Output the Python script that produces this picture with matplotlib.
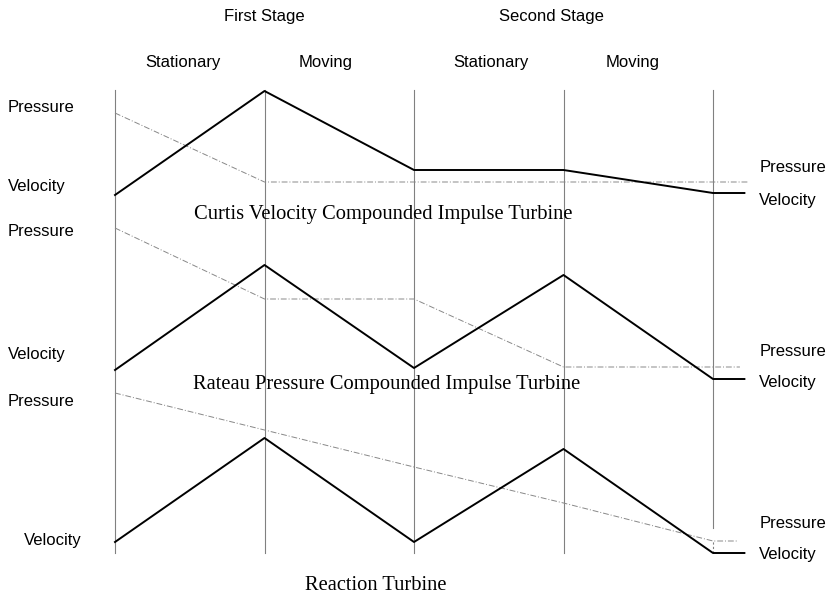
import matplotlib
matplotlib.use("Agg")
import matplotlib.pyplot as plt

# blade stations: 0 = stage inlet, 1..4 = after each blade row
stations = [0, 1, 2, 3, 4]

# heights (units = pixels above bottom edge)
curtis_velocity = [400, 504, 425, 425, 402]
curtis_pressure = [482, 413, 413, 413, 413]
rateau_velocity = [225, 330, 227, 320, 216]
rateau_pressure = [367, 296, 296, 228, 228]
reaction_velocity = [53, 157, 53, 146, 42]
reaction_pressure = [202, 165, 128, 92, 54]

stage_names = ["First Stage", "Second Stage"]
row_names = ["Stationary", "Moving", "Stationary", "Moving"]
titles = ["Curtis Velocity Compounded Impulse Turbine",
          "Rateau Pressure Compounded Impulse Turbine",
          "Reaction Turbine"]

sans = "Liberation Sans"
serif = "Liberation Serif"

fig = plt.figure(figsize=(8.33, 5.95), dpi=100)
ax = fig.add_axes([0, 0, 1, 1])
ax.set_xlim(-115 / 149.5, (833 - 115) / 149.5)
ax.set_ylim(0, 595)
ax.axis("off")

# vertical blade-row lines
for s in stations[:-1]:
    ax.plot([s, s], [42, 505], color="#808080", lw=0.8, zorder=1)
ax.plot([4, 4], [67, 505], color="#808080", lw=0.8, zorder=1)
ax.plot([4, 4], [42, 54], color="#808080", lw=0.8, ls=(0, (2, 2)), zorder=1)

dash = (0, (6, 2, 1, 2))
ext = 4.21

panels = [
    (curtis_velocity, curtis_pressure, 4.23),
    (rateau_velocity, rateau_pressure, 4.18),
    (reaction_velocity, reaction_pressure, 4.16),
]
for vel, pres, pend in panels:
    ax.plot(stations + [ext], vel + [vel[-1]], color="black", lw=1.4, zorder=3)
    ax.plot(stations + [pend], pres + [pres[-1]], color="#888888", lw=0.7,
            ls=dash, zorder=2)

# left-side labels
left_x = -0.716
for txt, y, x in [("Pressure", 487, left_x), ("Velocity", 409, left_x),
                  ("Pressure", 363, left_x), ("Velocity", 240, left_x),
                  ("Pressure", 193, left_x), ("Velocity", 54, -0.61)]:
    ax.text(x, y, txt, fontsize=12, family=sans, ha="left", va="center")

# right-side labels
right_x = 4.31
for txt, y in [("Pressure", 427, ), ("Velocity", 395),
               ("Pressure", 244), ("Velocity", 213),
               ("Pressure", 72), ("Velocity", 41)]:
    ax.text(right_x, y, txt, fontsize=12, family=sans, ha="left", va="center")

# header
for x, name in zip([1.0, 2.92], stage_names):
    ax.text(x, 579, name, fontsize=12, family=sans, ha="center", va="center")
for x, name in zip([0.455, 1.41, 2.515, 3.465], row_names):
    ax.text(x, 532, name, fontsize=12, family=sans, ha="center", va="center")

# turbine titles
for (x, y), t in zip([(1.795, 380), (1.815, 210), (1.745, 10)], titles):
    ax.text(x, y, t, fontsize=14.8, family=serif, ha="center", va="center")

fig.savefig("out.png", dpi=100, facecolor="white")
